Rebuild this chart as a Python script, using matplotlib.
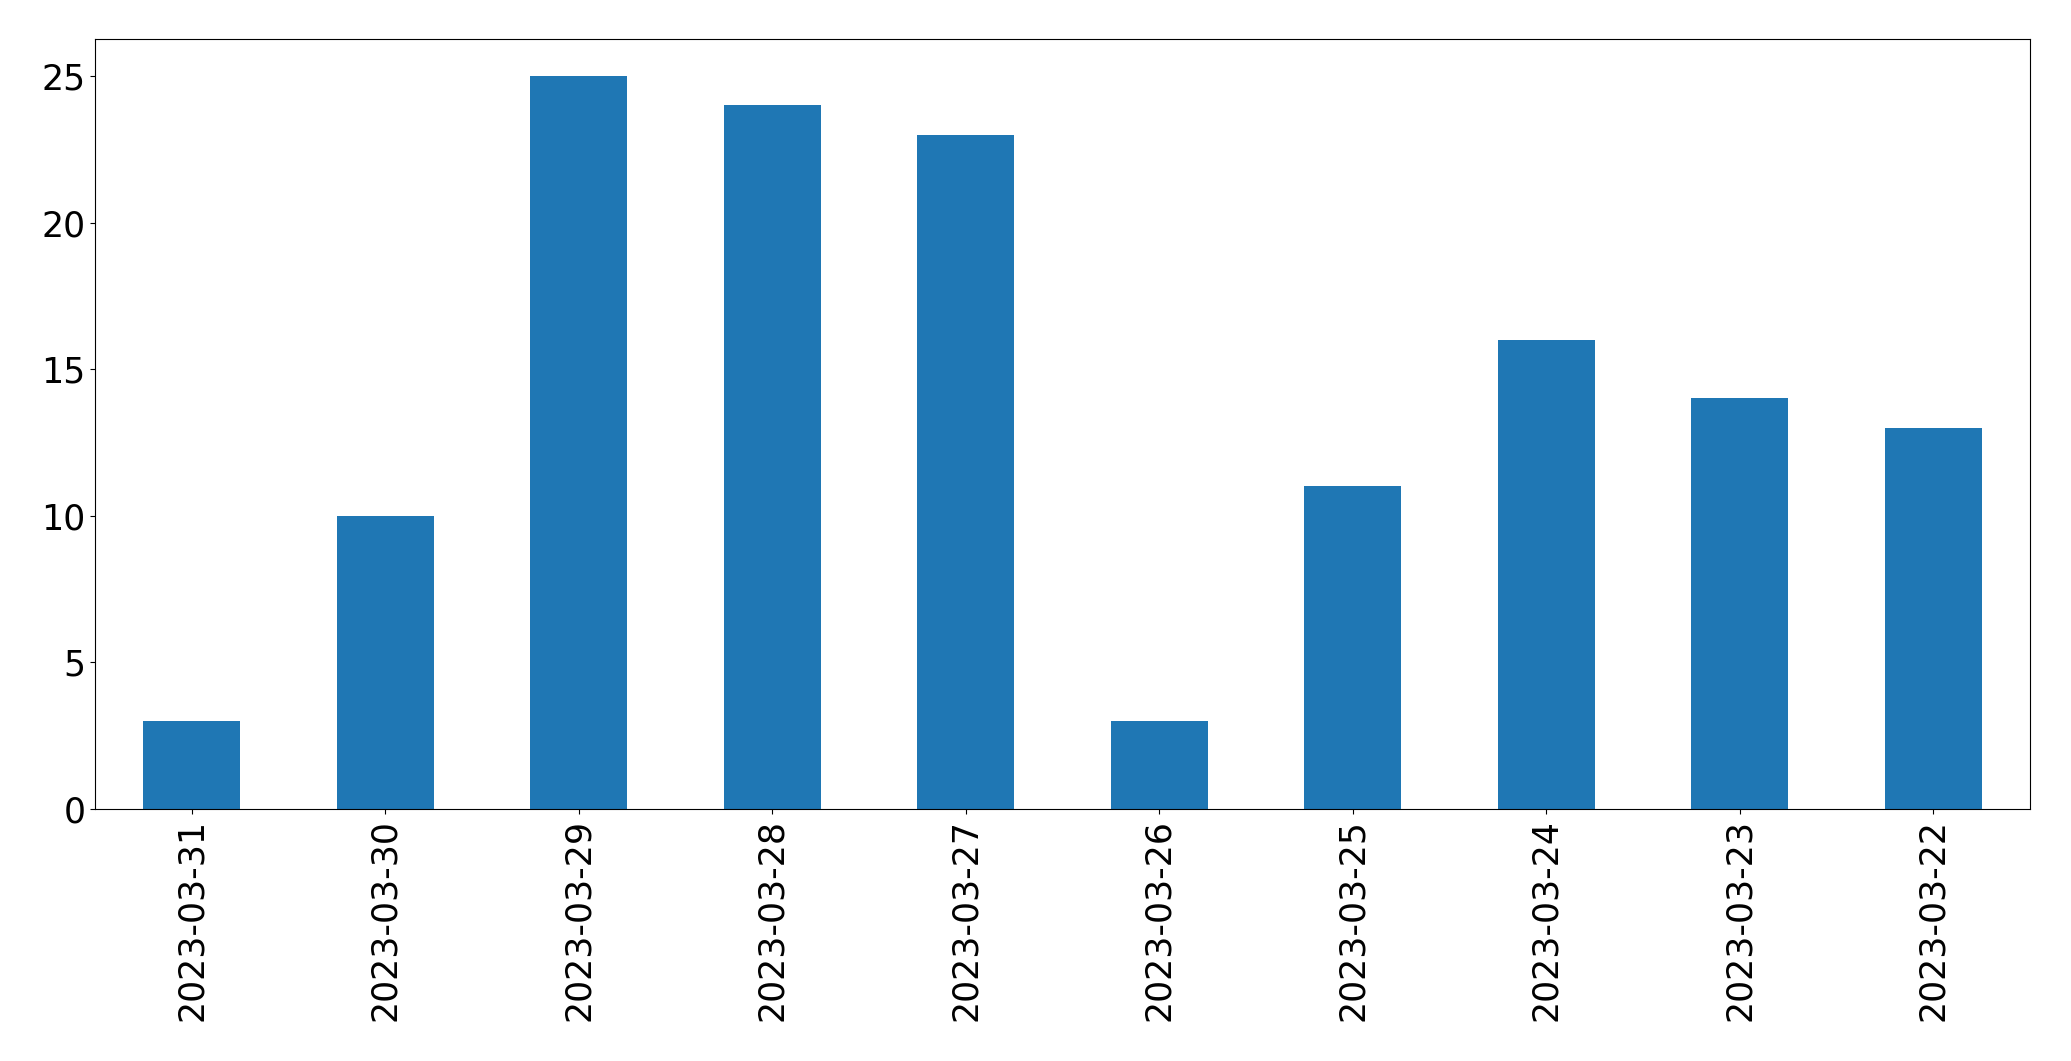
import matplotlib
matplotlib.use("Agg")
import matplotlib.pyplot as plt
import pandas as pd

# values
dates = ["2023-03-31", "2023-03-30", "2023-03-29", "2023-03-28", "2023-03-27",
         "2023-03-26", "2023-03-25", "2023-03-24", "2023-03-23", "2023-03-22"]
counts = [3, 10, 25, 24, 23, 3, 11, 16, 14, 13]

series = pd.Series(counts, index=dates)

fig = plt.figure(figsize=(20.71, 10.61), dpi=100)
ax = fig.add_axes([0.0459, 0.2375, 0.9343, 0.7255])
series.plot(kind="bar", ax=ax, color="#1f77b4")

ax.tick_params(axis="both", labelsize=25)
ax.set_xlabel("")

fig.savefig("out.png", dpi=100)
